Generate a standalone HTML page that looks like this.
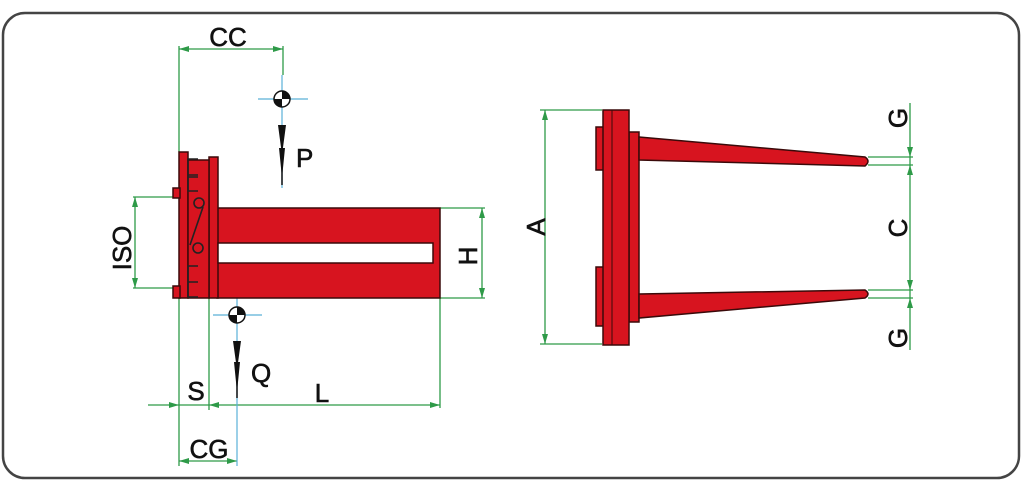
<!DOCTYPE html>
<html><head><style>html,body{margin:0;padding:0;background:#fff}svg{display:block}text{font-family:"Liberation Sans",sans-serif;font-size:26px;fill:#111;stroke:#111;stroke-width:0.6}</style></head>
<body>
<svg width="1024" height="490" viewBox="0 0 1024 490" xmlns="http://www.w3.org/2000/svg">
<defs>
<marker id="ga" viewBox="0 0 10 6" refX="10" refY="3" markerWidth="10" markerHeight="6" orient="auto-start-reverse" markerUnits="userSpaceOnUse"><path d="M0,0L10,3L0,6z" fill="#2e9a48"/></marker>
</defs>
<rect x="3" y="13" width="1016" height="465" rx="22" fill="none" stroke="#444" stroke-width="2.5"/>
<g stroke="#2e9a48" stroke-width="1.3" fill="none">
<line x1="179" y1="49" x2="283" y2="49" marker-start="url(#ga)" marker-end="url(#ga)"/>
<line x1="179" y1="46" x2="179" y2="152"/>
<line x1="179" y1="298" x2="179" y2="466"/>
<line x1="283" y1="46" x2="283" y2="75"/>
<line x1="135" y1="197" x2="135" y2="288" marker-start="url(#ga)" marker-end="url(#ga)"/>
<line x1="133" y1="197" x2="176" y2="197"/>
<line x1="133" y1="288" x2="176" y2="288"/>
<line x1="482" y1="208" x2="482" y2="298" marker-start="url(#ga)" marker-end="url(#ga)"/>
<line x1="440" y1="208" x2="485" y2="208"/>
<line x1="440" y1="298" x2="485" y2="298"/>
<line x1="148" y1="405" x2="179" y2="405" marker-end="url(#ga)"/>
<line x1="209" y1="405" x2="440" y2="405" marker-start="url(#ga)" marker-end="url(#ga)"/>
<line x1="179" y1="405" x2="209" y2="405"/>
<line x1="209" y1="298" x2="209" y2="410"/>
<line x1="440" y1="298" x2="440" y2="408"/>
<line x1="179" y1="461" x2="237" y2="461" marker-start="url(#ga)" marker-end="url(#ga)"/>
<line x1="545" y1="110" x2="545" y2="344" marker-start="url(#ga)" marker-end="url(#ga)"/>
<line x1="540" y1="110" x2="602" y2="110"/>
<line x1="540" y1="344" x2="602" y2="344"/>
<line x1="910" y1="103" x2="910" y2="157" marker-end="url(#ga)"/>
<line x1="910" y1="165" x2="910" y2="290" marker-start="url(#ga)" marker-end="url(#ga)"/>
<line x1="910" y1="298" x2="910" y2="350" marker-start="url(#ga)"/>
<line x1="910" y1="157" x2="910" y2="165"/>
<line x1="910" y1="290" x2="910" y2="298"/>
<line x1="868" y1="157" x2="913" y2="157"/>
<line x1="868" y1="165" x2="913" y2="165"/>
<line x1="868" y1="290" x2="913" y2="290"/>
<line x1="868" y1="298" x2="913" y2="298"/>
</g>
<g>
<line x1="282" y1="75" x2="282" y2="188" stroke="#5ab0d8" stroke-width="1.2"/>
<line x1="258" y1="99" x2="308" y2="99" stroke="#5ab0d8" stroke-width="1.2"/>
<circle cx="282" cy="99" r="8" fill="#fff" stroke="#111" stroke-width="1.5"/>
<path d="M282,91A8,8 0 0 1 290,99L282,99z M282,107A8,8 0 0 1 274,99L282,99z" fill="#111"/>
<path d="M278,125L286,125L282,155z M279,148L285,148L282,178z" fill="#111"/>
<line x1="282" y1="125" x2="282" y2="185" stroke="#111" stroke-width="1.5"/>
</g>
<g>
<line x1="237" y1="292" x2="237" y2="466" stroke="#5ab0d8" stroke-width="1.2"/>
<line x1="213" y1="315" x2="262" y2="315" stroke="#5ab0d8" stroke-width="1.2"/>
<circle cx="237" cy="315" r="8" fill="#fff" stroke="#111" stroke-width="1.5"/>
<path d="M237,307A8,8 0 0 1 245,315L237,315z M237,323A8,8 0 0 1 229,315L237,315z" fill="#111"/>
<path d="M233,341L241,341L237,370z M234,362L240,362L237,392z" fill="#111"/>
<line x1="237" y1="341" x2="237" y2="398" stroke="#111" stroke-width="1.5"/>
</g>
<g fill="#d7141f" stroke="#3a0a0a" stroke-width="1.5">
<rect x="217" y="208" width="223" height="90"/>
<rect x="209" y="157" width="9" height="141"/>
<rect x="179" y="152" width="9" height="146"/>
<rect x="173" y="188" width="7" height="10"/>
<rect x="173" y="286" width="7" height="12"/>
<rect x="188" y="160" width="21" height="138"/>
</g>
<rect x="218" y="243" width="215" height="20" fill="#fff" stroke="#3a0a0a" stroke-width="1.5"/>
<g fill="none" stroke="#222" stroke-width="1.6">
<path d="M198,159h-10v18h10 M198,175h-10v16h10"/>
<path d="M198,266h-10v16h10 M198,282h-10v15h10"/>
<circle cx="199" cy="203" r="5"/>
<circle cx="198" cy="248" r="5"/>
<path d="M203,207L190,245"/>
</g>
<g fill="#d7141f" stroke="#3a0a0a" stroke-width="1.5">
<rect x="596" y="127" width="8" height="43"/>
<rect x="596" y="267" width="8" height="59"/>
<rect x="629" y="132" width="10" height="190"/>
<rect x="603" y="110" width="26" height="235"/>
<path d="M639,137L865,157Q871,161 865,166L639,160z"/>
<path d="M639,294L865,290Q871,294 865,298L639,318z"/>
</g>
<line x1="612" y1="110" x2="612" y2="345" stroke="#3a0a0a" stroke-width="1"/>
<text x="228" y="46" text-anchor="middle">CC</text>
<text x="296" y="167">P</text>
<text x="251" y="382">Q</text>
<text x="196" y="400" text-anchor="middle">S</text>
<text x="322" y="402" text-anchor="middle">L</text>
<text x="209" y="458" text-anchor="middle">CG</text>
<text transform="translate(131,248) rotate(-90)" text-anchor="middle">ISO</text>
<text transform="translate(477,256) rotate(-90)" text-anchor="middle">H</text>
<text transform="translate(545,227) rotate(-90)" text-anchor="middle">A</text>
<text transform="translate(907,118) rotate(-90)" text-anchor="middle">G</text>
<text transform="translate(907,228) rotate(-90)" text-anchor="middle">C</text>
<text transform="translate(907,338) rotate(-90)" text-anchor="middle">G</text>
</svg>
</body></html>
